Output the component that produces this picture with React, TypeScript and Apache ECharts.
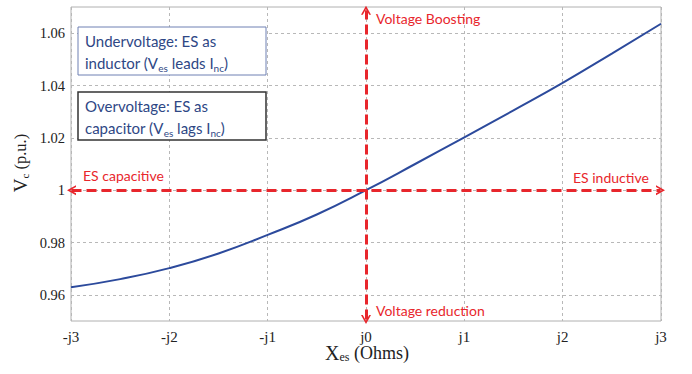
import React, { useEffect, useRef } from "react";
import * as echarts from "echarts";

const xValues = [-3, -2.5, -2, -1.5, -1, -0.5, 0, 0.5, 1, 1.5, 2, 2.5, 3];
const vcValues = [0.9629, 0.966, 0.9702, 0.9758, 0.9829, 0.9907, 1.0, 1.01, 1.0202, 1.0305, 1.041, 1.0522, 1.0636];
const xTickLabels: Record<string, string> = { "-3": "-j3", "-2": "-j2", "-1": "-j1", "0": "j0", "1": "j1", "2": "j2", "3": "j3" };

const RED = "#e8262c";
const BLUE = "#2c4a9c";
const TXT_BLUE = "#2e4785";

export default function App() {
  const ref = useRef<HTMLDivElement>(null);
  useEffect(() => {
    document.body.style.margin = "0";
    const chart = echarts.init(ref.current!, null, { renderer: "svg" });
    const chevron = "path://M0,10 L5,0 L10,10 L8.2,10 L5,3.6 L1.8,10 Z";
    const subRich = (size: number, family: string, color: string, bigFirst?: number) => ({
      a: { fontSize: size, fontFamily: family, fill: color, color, lineHeight: 20, verticalAlign: "middle" },
      b: { fontSize: bigFirst ?? size, fontFamily: family, fill: color, color, lineHeight: 20, verticalAlign: "middle" },
      s: { fontSize: Math.round(size * 0.68), fontFamily: family, fill: color, color, lineHeight: 10, verticalAlign: "bottom" },
    });
    chart.setOption({
      animation: false,
      backgroundColor: "#fff",
      grid: { left: 71, right: 31, top: 7, bottom: 53, show: true, borderColor: "#b0b0b0", borderWidth: 1, backgroundColor: "transparent" },
      xAxis: {
        type: "value", min: -3, max: 3, interval: 1,
        axisLine: { show: false }, axisTick: { show: false },
        axisLabel: { formatter: (v: number) => xTickLabels[String(Math.round(v))] ?? "", color: "#222", fontFamily: "Liberation Serif", fontSize: 15, margin: 8 },
        splitLine: { show: true, lineStyle: { color: "#b8b8b8", type: [3, 3], width: 1 } },
      },
      yAxis: {
        type: "value", min: 0.95, max: 1.07, interval: 0.01,
        axisLine: { show: false }, axisTick: { show: false },
        axisLabel: {
          formatter: (v: number) => (Math.round(v * 100) % 2 === 0 ? String(Number(v.toFixed(2))) : ""),
          color: "#222", fontFamily: "Liberation Serif", fontSize: 14.5, margin: 6,
        },
        splitLine: { show: true, lineStyle: { color: ["rgba(0,0,0,0)", "#b8b8b8"], type: [3, 3], width: 1 } },
      },
      series: [
        {
          type: "line", data: xValues.map((x, i) => [x, vcValues[i]]), smooth: true, showSymbol: false,
          lineStyle: { color: BLUE, width: 2 }, z: 3,
          markLine: {
            silent: true, symbol: [chevron, chevron], symbolSize: [10, 9],
            label: { show: false },
            lineStyle: { color: RED, width: 3, type: [10, 5] },
            data: [
              [{ coord: [-2.995, 1] }, { coord: [2.995, 1] }],
              [{ coord: [0, 0.9506] }, { coord: [0, 1.0688] }],
            ],
          },
        },
      ],
      graphic: [
        { type: "rect", z: 10, shape: { x: 78, y: 27, width: 188, height: 48 }, style: { fill: "#fff", stroke: "#6f80b3", lineWidth: 1 } },
        { type: "text", z: 11, x: 85, y: 33, style: { text: "Undervoltage: ES as", fill: TXT_BLUE, fontSize: 15, fontFamily: "Lato", textVerticalAlign: "top" } },
        { type: "text", z: 11, x: 85, y: 53, style: { text: "{a|inductor (V}{s|es}{a| leads I}{s|nc}{a|)}", rich: subRich(15, "Lato", TXT_BLUE) } },
        { type: "rect", z: 10, shape: { x: 78, y: 92, width: 188, height: 48 }, style: { fill: "#fff", stroke: "#333", lineWidth: 1.5 } },
        { type: "text", z: 11, x: 85, y: 98, style: { text: "Overvoltage: ES as", fill: TXT_BLUE, fontSize: 15, fontFamily: "Lato", textVerticalAlign: "top" } },
        { type: "text", z: 11, x: 85, y: 118, style: { text: "{a|capacitor (V}{s|es}{a| lags I}{s|nc}{a|)}", rich: subRich(15, "Lato", TXT_BLUE) } },
        { type: "text", z: 11, x: 376, y: 11, style: { text: "Voltage Boosting", fill: RED, fontSize: 14, fontFamily: "Lato" } },
        { type: "text", z: 11, x: 376, y: 303, style: { text: "Voltage reduction", fill: RED, fontSize: 14, fontFamily: "Lato" } },
        { type: "text", z: 11, x: 83, y: 168, style: { text: "ES capacitive", fill: RED, fontSize: 14, fontFamily: "Lato" } },
        { type: "text", z: 11, x: 573, y: 170, style: { text: "ES inductive", fill: RED, fontSize: 14, fontFamily: "Lato" } },
        {
          type: "text", z: 11, x: 20, y: 163, rotation: Math.PI / 2,
          style: { text: "{b|V}{s|c}{a| (p.u.)}", align: "center", verticalAlign: "middle", rich: subRich(16.5, "Liberation Serif", "#222", 19) },
        },
        {
          type: "text", z: 11, x: 367, y: 353,
          style: { text: "{b|X}{s|es}{a| (Ohms)}", align: "center", verticalAlign: "middle", rich: subRich(18, "Liberation Serif", "#222", 20) },
        },
      ],
    });
    return () => chart.dispose();
  }, []);
  return <div ref={ref} style={{ width: 692, height: 374, position: "fixed", left: 0, top: 0 }} />;
}
